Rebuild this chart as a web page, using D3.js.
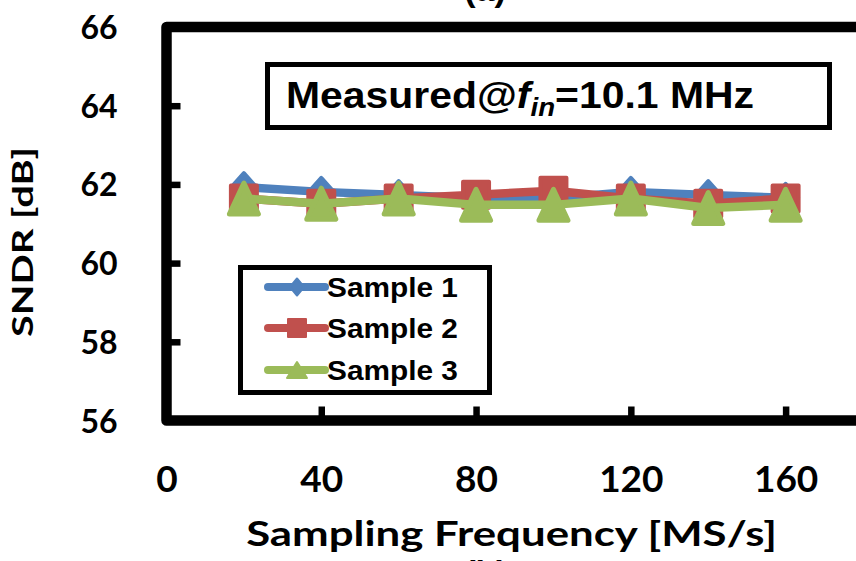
<!DOCTYPE html>
<html>
<head>
<meta charset="utf-8">
<script src="https://cdn.jsdelivr.net/npm/d3@7"></script>
<style>
  html, body { margin: 0; padding: 0; background: #fff; }
  svg { display: block; }
</style>
</head>
<body>
<svg id="chart" width="856" height="561"></svg>
<script>
// Sampling frequency (MS/s) of each measurement
const freqs = [20, 40, 60, 80, 100, 120, 140, 160];
// Measured SNDR (dB) of the three chips
const sample1 = [61.93, 61.81, 61.73, 61.65, 61.65, 61.81, 61.73, 61.66];
const sample2 = [61.64, 61.51, 61.64, 61.74, 61.84, 61.64, 61.51, 61.64];
const sample3 = [61.64, 61.51, 61.64, 61.48, 61.48, 61.64, 61.40, 61.48];
const seriesNames = ["Sample 1", "Sample 2", "Sample 3"];
const xTicks = [0, 40, 80, 120, 160];
const yTicks = [56, 58, 60, 62, 64, 66];

const colors = ["#4F81BD", "#C0504D", "#9BBB59"];
const shapes = ["diamond", "square", "triangle"];
const numFont = "Lato, 'Open Sans', sans-serif";
const arialFont = "'Liberation Sans', Arial, sans-serif";

const svg = d3.select("#chart");

const x = d3.scaleLinear().domain([0, 180]).range([166.5, 863]);
const y = d3.scaleLinear().domain([56, 66]).range([420.5, 27]);

// stretch a text horizontally so that it spans the wanted width
function fitWidth(textSel, target) {
  const w = textSel.node().getBBox().width;
  const prev = textSel.attr("transform") || "";
  textSel.attr("transform", prev + ` scale(${target / w},1)`);
}

// marker path generator, centred on 0,0
function markerPath(shape, s) {
  if (shape === "diamond") {
    return `M0,${-s.h}L${s.w},0L0,${s.h}L${-s.w},0Z`;
  }
  if (shape === "square") {
    return `M${-s.w},${-s.h}L${s.w},${-s.h}L${s.w},${s.h}L${-s.w},${s.h}Z`;
  }
  return `M0,${-s.h}L${s.w},${s.h}L${-s.w},${s.h}Z`;
}
const plotSizes = {
  diamond: { w: 12.5, h: 14, sw: 4 },
  square: { w: 13, h: 13, sw: 4 },
  triangle: { w: 14.5, h: 15.5, sw: 5 }
};
const legendSizes = {
  diamond: { w: 7, h: 8.5, sw: 2 },
  square: { w: 9, h: 9, sw: 2 },
  triangle: { w: 10, h: 8, sw: 2 }
};

// Y axis: ticks point into the plot
const yAxis = d3.axisLeft(y).tickValues(yTicks).tickSizeInner(-14).tickSizeOuter(0).tickPadding(49)
  .tickFormat(d3.format("d"));
const gy = svg.append("g").attr("transform", `translate(${x(0)},0)`).call(yAxis);
gy.select(".domain").remove();
gy.selectAll(".tick line").attr("stroke", "#000").attr("stroke-width", 6.5);
gy.selectAll(".tick text")
  .attr("font-family", numFont).attr("font-weight", 700).attr("font-size", 32)
  .attr("fill", "#000").attr("dy", "0.36em");

// X axis: ticks point up into the plot
const xAxis = d3.axisBottom(x).tickValues(xTicks).tickSizeInner(-14).tickSizeOuter(0).tickPadding(45)
  .tickFormat(d3.format("d"));
const gx = svg.append("g").attr("transform", `translate(0,${y(56)})`).call(xAxis);
gx.select(".domain").remove();
gx.selectAll(".tick line").attr("stroke", "#000").attr("stroke-width", 6.5);
gx.selectAll(".tick text")
  .attr("font-family", numFont).attr("font-weight", 700).attr("font-size", 37)
  .attr("fill", "#000");

// Plot frame
svg.append("rect")
  .attr("x", x(0)).attr("y", y(66))
  .attr("width", x(180) - x(0)).attr("height", y(56) - y(66))
  .attr("fill", "none").attr("stroke", "#000").attr("stroke-width", 10.5)
  .attr("stroke-linejoin", "round");

// Axis titles
const yTitle = svg.append("text")
  .attr("transform", "translate(33,242) rotate(-90)")
  .attr("text-anchor", "middle")
  .attr("font-family", numFont).attr("font-weight", 700).attr("font-size", 28)
  .text("SNDR [dB]");
fitWidth(yTitle, 190);

const xTitle = svg.append("text")
  .attr("transform", "translate(511.5,546)")
  .attr("text-anchor", "middle")
  .attr("font-family", numFont).attr("font-weight", 700).attr("font-size", 35)
  .text("Sampling Frequency [MS/s]");
fitWidth(xTitle, 531);

// Panel letters cut by the page edges
svg.append("text").attr("x", 485).attr("y", 1).attr("text-anchor", "middle")
  .attr("font-family", arialFont).attr("font-weight", 700).attr("font-size", 34).text("(a)");
svg.append("text").attr("x", 486).attr("y", 584).attr("text-anchor", "middle")
  .attr("font-family", arialFont).attr("font-weight", 700).attr("font-size", 34).text("(b)");

// Data series
const allSeries = [sample1, sample2, sample3];
const line = d3.line().x(d => x(d[0])).y(d => y(d[1]));
allSeries.forEach((vals, i) => {
  const pts = freqs.map((f, j) => [f, vals[j]]);
  const g = svg.append("g").attr("class", "series");
  g.append("path").attr("d", line(pts))
    .attr("fill", "none").attr("stroke", colors[i]).attr("stroke-width", 8.5)
    .attr("stroke-linejoin", "round").attr("stroke-linecap", "round");
  const s = plotSizes[shapes[i]];
  g.selectAll("path.mark").data(pts).join("path")
    .attr("class", "mark")
    .attr("transform", d => `translate(${x(d[0])},${y(d[1])})`)
    .attr("d", markerPath(shapes[i], s))
    .attr("fill", colors[i]).attr("stroke", colors[i]).attr("stroke-width", s.sw)
    .attr("stroke-linejoin", "round");
});

// Annotation box
svg.append("rect").attr("x", 267.5).attr("y", 64.5).attr("width", 562).attr("height", 63)
  .attr("fill", "#fff").attr("stroke", "#000").attr("stroke-width", 5);
const note = svg.append("text")
  .attr("transform", "translate(286,108)")
  .attr("font-family", arialFont).attr("font-weight", 700).attr("font-size", 37).attr("fill", "#000");
note.append("tspan").text("Measured@");
note.append("tspan").attr("font-style", "italic").text("f");
note.append("tspan").attr("font-style", "italic").attr("font-size", 25).attr("dy", 8).text("in");
note.append("tspan").attr("dy", -8).text("=10.1 MHz");
fitWidth(note, 468);

// Legend
const legend = svg.append("g");
legend.append("rect").attr("x", 240.5).attr("y", 267.5).attr("width", 249).attr("height", 125)
  .attr("fill", "#fff").attr("stroke", "#000").attr("stroke-width", 5);
const legendY = [287, 328, 370];
seriesNames.forEach((name, i) => {
  const cy = legendY[i];
  legend.append("line").attr("x1", 268).attr("x2", 325).attr("y1", cy).attr("y2", cy)
    .attr("stroke", colors[i]).attr("stroke-width", 8).attr("stroke-linecap", "round");
  const s = legendSizes[shapes[i]];
  legend.append("path").attr("transform", `translate(297,${cy})`)
    .attr("d", markerPath(shapes[i], s))
    .attr("fill", colors[i]).attr("stroke", colors[i]).attr("stroke-width", s.sw)
    .attr("stroke-linejoin", "round");
  const t = legend.append("text").attr("transform", `translate(327,${cy + 10})`)
    .attr("font-family", arialFont).attr("font-weight", 700).attr("font-size", 28)
    .attr("fill", "#000").text(name);
  fitWidth(t, 131);
});
</script>
</body>
</html>
